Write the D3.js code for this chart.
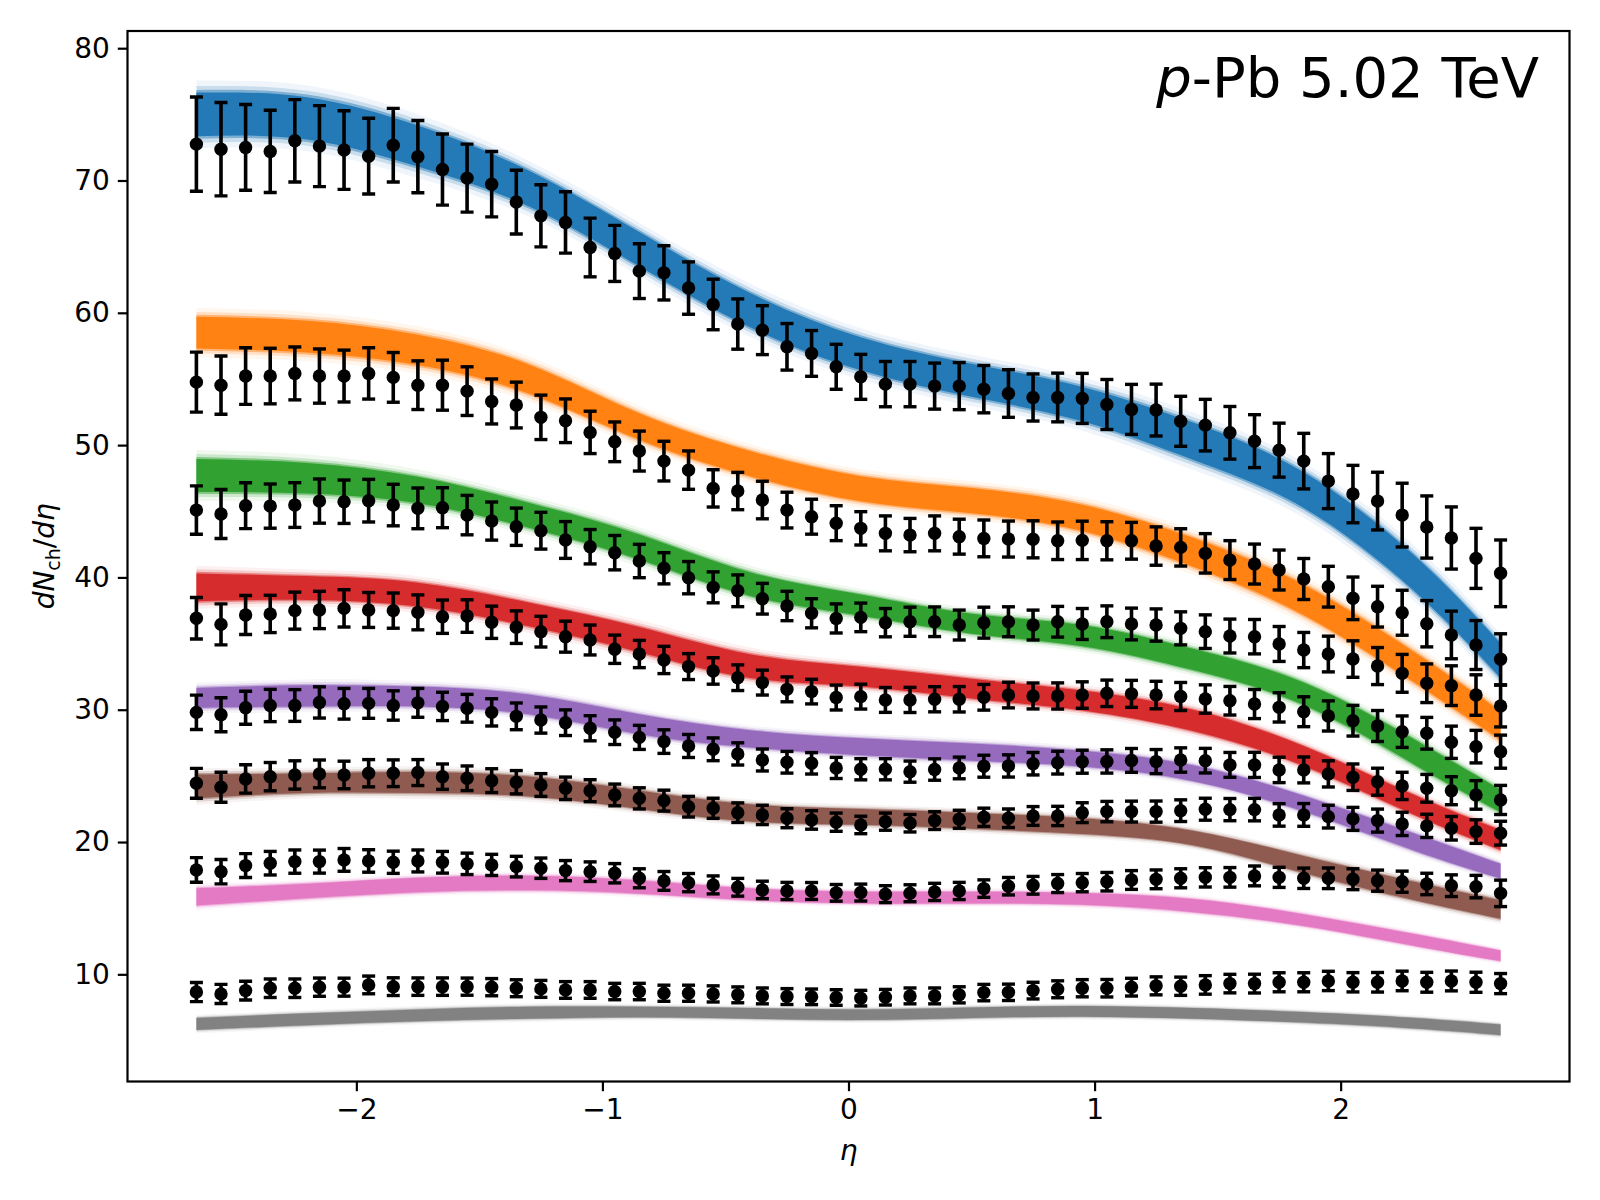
<!DOCTYPE html>
<html>
<head>
<meta charset="utf-8">
<script src="https://cdn.jsdelivr.net/npm/d3@7"></script>
<style>
  body { margin: 0; background: #fff; }
  svg text { font-family: "DejaVu Sans", sans-serif; fill: #000; }
</style>
</head>
<body>
<div id="chart"></div>
<script>
// pseudorapidity bins of the data points
var eta = [-2.65,-2.55,-2.45,-2.35,-2.25,-2.15,-2.05,-1.95,-1.85,-1.75,
  -1.65,-1.55,-1.45,-1.35,-1.25,-1.15,-1.05,-0.95,-0.85,-0.75,
  -0.65,-0.55,-0.45,-0.35,-0.25,-0.15,-0.05,0.05,0.15,0.25,
  0.35,0.45,0.55,0.65,0.75,0.85,0.95,1.05,1.15,1.25,
  1.35,1.45,1.55,1.65,1.75,1.85,1.95,2.05,2.15,2.25,
  2.35,2.45,2.55,2.65];

// centrality classes, top to bottom
var classes = ["c0", "c1", "c2", "c3", "c4", "c5", "c6", "c7"];
var colors = ["#1f77b4", "#ff7f0e", "#2ca02c", "#d62728", "#9467bd", "#8c564b", "#e377c2", "#7f7f7f"];

// measured dNch/deta
var dataC0 = [72.75,72.37,72.5,72.2,73.0,72.6,72.3,71.84,72.67,71.8,
  70.83,70.18,69.72,68.37,67.33,66.83,64.94,64.49,63.15,63.02,
  61.87,60.63,59.15,58.69,57.43,56.93,55.92,55.16,54.61,54.61,
  54.46,54.46,54.23,53.9,53.6,53.6,53.53,53.07,52.7,52.65,
  51.8,51.51,50.93,50.3,49.62,48.79,47.28,46.3,45.77,44.71,
  43.81,42.98,41.44,40.31];
var dataC1 = [54.76,54.53,55.22,55.22,55.42,55.22,55.22,55.42,55.12,54.53,
  54.53,54.08,53.3,53.03,52.1,51.84,50.96,50.25,49.55,48.79,
  48.11,46.73,46.53,45.85,45.09,44.59,44.1,43.71,43.33,43.2,
  43.33,43.08,42.95,42.9,42.88,42.77,42.8,42.77,42.77,42.37,
  42.27,41.82,41.31,41.01,40.56,39.88,39.3,38.42,37.79,37.33,
  36.5,35.65,34.89,33.81];
var dataC2 = [45.09,44.79,45.42,45.39,45.47,45.77,45.72,45.8,45.47,45.22,
  45.27,44.71,44.26,43.83,43.53,42.83,42.32,41.87,41.24,40.69,
  39.98,39.25,38.99,38.39,37.84,37.29,36.9,36.98,36.58,36.65,
  36.65,36.4,36.58,36.65,36.4,36.65,36.48,36.65,36.48,36.4,
  36.15,35.9,35.57,35.52,34.97,34.51,34.21,33.83,33.3,32.75,
  32.0,31.82,31.11,30.28];
var dataC3 = [36.91,36.45,37.16,37.24,37.49,37.54,37.66,37.54,37.49,37.36,
  37.03,37.08,36.61,36.24,35.9,35.52,35.27,34.57,34.21,33.76,
  33.26,32.93,32.42,32.05,31.54,31.37,30.92,30.99,30.74,30.74,
  30.79,30.79,30.94,31.11,31.04,31.04,31.11,31.24,31.2,31.11,
  31.0,30.81,30.68,30.43,30.18,29.85,29.53,29.17,28.77,28.34,
  28.22,27.54,27.21,26.83];
var dataC4 = [29.8,29.62,30.15,30.32,30.32,30.55,30.45,30.48,30.32,30.52,
  30.25,30.11,29.8,29.5,29.22,29.02,28.6,28.3,27.91,27.59,
  27.26,27.01,26.66,26.2,26.03,25.95,25.6,25.5,25.5,25.32,
  25.48,25.6,25.73,25.75,25.92,26.0,26.07,26.09,26.17,26.08,
  26.2,26.15,25.83,25.83,25.45,25.45,25.15,24.9,24.56,24.24,
  24.06,23.88,23.56,23.18];
var dataC5 = [24.44,24.14,24.77,24.94,25.07,25.15,25.07,25.2,25.2,25.25,
  24.94,24.82,24.64,24.52,24.31,24.06,23.88,23.56,23.3,23.13,
  22.67,22.55,22.22,22.05,21.8,21.67,21.5,21.29,21.54,21.42,
  21.62,21.72,21.87,21.8,21.97,21.97,22.22,22.3,22.3,22.3,
  22.37,22.48,22.45,22.45,22.05,22.05,21.92,21.75,21.62,21.37,
  21.22,21.04,20.79,20.67];
var dataC6 = [17.89,17.76,18.22,18.4,18.52,18.52,18.65,18.57,18.47,18.57,
  18.47,18.35,18.27,18.14,18.02,17.84,17.76,17.64,17.26,17.06,
  16.93,16.76,16.58,16.38,16.3,16.3,16.16,16.18,16.06,16.13,
  16.23,16.3,16.48,16.66,16.73,16.86,16.93,17.0,17.13,17.18,
  17.26,17.33,17.33,17.44,17.33,17.26,17.26,17.19,17.08,17.0,
  16.83,16.7,16.63,16.12];
var dataC7 = [8.66,8.52,8.77,8.95,8.95,9.03,9.03,9.2,9.07,9.07,
  9.07,9.07,9.03,8.95,8.9,8.82,8.82,8.7,8.7,8.57,
  8.57,8.52,8.45,8.37,8.32,8.3,8.25,8.2,8.27,8.37,
  8.37,8.45,8.62,8.64,8.77,8.87,8.95,8.95,9.03,9.13,
  9.1,9.2,9.3,9.3,9.4,9.4,9.5,9.4,9.4,9.5,
  9.4,9.5,9.4,9.3];

// uncertainties
var errC0 = [3.56,3.53,3.24,3.11,3.11,3.06,2.97,2.86,2.78,2.73,
  2.69,2.57,2.47,2.41,2.35,2.32,2.22,2.12,2.07,2.05,
  1.98,1.91,1.9,1.85,1.76,1.73,1.7,1.7,1.71,1.71,
  1.74,1.78,1.79,1.8,1.78,1.84,1.89,1.89,1.89,1.96,
  1.89,1.95,1.99,2.0,2.04,2.1,2.08,2.17,2.18,2.41,
  2.35,2.35,2.27,2.52];
var errC1 = [2.27,2.2,2.14,2.1,2.0,2.05,1.96,1.94,1.88,1.84,
  1.89,1.84,1.7,1.73,1.68,1.65,1.6,1.5,1.51,1.5,
  1.45,1.41,1.41,1.42,1.35,1.32,1.32,1.26,1.32,1.26,
  1.32,1.32,1.39,1.36,1.4,1.42,1.45,1.44,1.39,1.45,
  1.41,1.49,1.47,1.51,1.51,1.55,1.54,1.61,1.54,1.7,
  1.75,1.8,1.85,1.93];
var errC2 = [1.83,1.85,1.73,1.67,1.69,1.67,1.64,1.61,1.57,1.54,
  1.51,1.49,1.44,1.41,1.39,1.39,1.3,1.3,1.26,1.18,
  1.22,1.17,1.2,1.16,1.11,1.1,1.1,1.08,1.07,1.1,
  1.12,1.13,1.17,1.13,1.13,1.16,1.17,1.2,1.2,1.22,
  1.25,1.27,1.28,1.3,1.32,1.33,1.35,1.38,1.4,1.43,
  1.46,1.5,1.53,1.58];
var errC3 = [1.57,1.55,1.47,1.41,1.4,1.41,1.41,1.32,1.33,1.32,
  1.26,1.23,1.22,1.23,1.16,1.17,1.13,1.07,1.03,1.03,
  0.98,1.0,0.97,0.94,0.94,0.93,0.94,0.94,0.94,0.95,
  0.95,0.96,0.97,0.97,0.98,0.99,1.0,1.0,1.02,1.04,
  1.06,1.07,1.08,1.1,1.11,1.13,1.14,1.16,1.17,1.19,
  1.2,1.22,1.23,1.25];
var errC4 = [1.3,1.28,1.25,1.22,1.2,1.18,1.16,1.13,1.11,1.09,
  1.07,1.05,1.03,1.01,0.99,0.97,0.95,0.93,0.91,0.89,
  0.87,0.86,0.84,0.83,0.82,0.81,0.8,0.8,0.8,0.8,
  0.81,0.82,0.83,0.84,0.85,0.86,0.87,0.88,0.9,0.91,
  0.92,0.93,0.94,0.95,0.96,0.98,0.99,1.0,1.02,1.03,
  1.05,1.06,1.08,1.1];
var errC5 = [1.13,1.13,1.07,1.07,1.07,1.05,1.04,1.03,1.01,0.98,
  0.96,0.93,0.9,0.88,0.86,0.85,0.83,0.82,0.8,0.79,
  0.78,0.76,0.74,0.73,0.72,0.7,0.69,0.66,0.65,0.66,
  0.67,0.68,0.69,0.7,0.71,0.73,0.75,0.77,0.79,0.8,
  0.82,0.83,0.84,0.85,0.85,0.86,0.86,0.87,0.87,0.88,
  0.88,0.89,0.89,0.9];
var errC6 = [0.93,0.92,0.9,0.89,0.88,0.87,0.86,0.85,0.84,0.83,
  0.82,0.81,0.8,0.78,0.77,0.76,0.74,0.73,0.72,0.71,
  0.69,0.68,0.67,0.66,0.65,0.64,0.63,0.64,0.64,0.64,
  0.65,0.65,0.66,0.66,0.67,0.68,0.69,0.7,0.71,0.71,
  0.72,0.73,0.74,0.75,0.76,0.77,0.78,0.79,0.8,0.8,
  0.81,0.82,0.85,1.0];
var errC7 = [0.72,0.72,0.71,0.7,0.7,0.69,0.68,0.67,0.67,0.66,
  0.66,0.65,0.65,0.64,0.64,0.63,0.63,0.62,0.62,0.61,
  0.61,0.61,0.6,0.6,0.6,0.59,0.59,0.59,0.59,0.6,
  0.6,0.61,0.62,0.62,0.63,0.64,0.65,0.66,0.67,0.68,
  0.69,0.7,0.7,0.71,0.72,0.72,0.73,0.73,0.74,0.74,
  0.75,0.75,0.76,0.76];

// model bands: centre and half width, read at these eta values
var bandEta = [-2.65,-2.2,-1.75,-1.3,-0.85,-0.4,0.05,0.5,0.95,1.4,1.85,2.3,2.65];
var bandC0 = [75.0,74.7,72.6,69.4,64.8,60.2,56.9,54.9,53.1,50.3,46.6,40.3,33.7];
var bandC1 = [58.5,58.2,57.2,55.0,51.4,48.6,46.7,45.8,44.5,41.9,38.3,33.2,28.8];
var bandC2 = [47.7,47.5,46.6,44.7,42.3,39.5,37.9,36.5,35.6,33.8,31.2,26.8,23.1];
var bandC3 = [39.25,39.2,38.7,37.2,35.3,33.3,32.5,31.6,30.7,29.2,26.5,22.8,20.15];
var bandC4 = [30.9,31.05,31.0,30.4,28.9,27.8,27.2,26.8,26.3,25.2,22.9,20.0,17.8];
var bandC5 = [24.2,24.45,24.5,24.2,23.2,22.2,21.9,21.6,21.2,20.3,18.3,16.3,14.9];
var bandC6 = [15.85,16.3,16.75,16.9,16.6,16.05,15.8,15.8,15.7,15.2,14.1,12.6,11.4];
var bandC7 = [6.25,6.6,6.9,7.1,7.15,7.05,6.95,7.1,7.2,7.05,6.75,6.3,5.8];
var halfC0 = [1.65,1.6,1.55,1.35,1.3,1.3,1.25,1.25,1.3,1.4,1.35,1.35,1.3];
var halfC1 = [1.2,1.2,1.15,1.1,1.0,0.95,0.95,0.95,1.0,1.1,1.15,1.15,1.1];
var halfC2 = [1.25,1.15,1.0,0.95,0.95,0.9,0.8,0.75,0.8,0.8,0.85,0.95,0.85];
var halfC3 = [1.05,0.9,0.9,0.9,0.95,0.9,0.75,0.75,0.75,0.8,0.75,0.75,0.75];
var halfC4 = [0.75,0.8,0.75,0.75,0.75,0.65,0.65,0.65,0.6,0.6,0.6,0.65,0.55];
var halfC5 = [0.9,0.75,0.8,0.75,0.7,0.65,0.6,0.6,0.6,0.55,0.65,0.7,0.7];
var halfC6 = [0.65,0.55,0.55,0.55,0.5,0.45,0.45,0.45,0.45,0.5,0.45,0.45,0.4];
var halfC7 = [0.45,0.45,0.45,0.45,0.4,0.4,0.4,0.4,0.4,0.4,0.4,0.4,0.4];

var xTicks = [-2, -1, 0, 1, 2];
var yTicks = [10, 20, 30, 40, 50, 60, 70, 80];

var allData = [dataC0, dataC1, dataC2, dataC3, dataC4, dataC5, dataC6, dataC7];
var allErr = [errC0, errC1, errC2, errC3, errC4, errC5, errC6, errC7];
var allBand = [bandC0, bandC1, bandC2, bandC3, bandC4, bandC5, bandC6, bandC7];
var allHalf = [halfC0, halfC1, halfC2, halfC3, halfC4, halfC5, halfC6, halfC7];

var W = 1600, H = 1200;
var margin = { top: 31, left: 127.5, right: 30.5, bottom: 118.5 },
    width = W - margin.left - margin.right,
    height = H - margin.top - margin.bottom;

var svg = d3.select("#chart").append("svg")
  .attr("width", W).attr("height", H)
  .style("background", "#fff");

var g = svg.append("g")
  .attr("transform", "translate(" + margin.left + "," + margin.top + ")");

var x = d3.scaleLinear().domain([-2.93, 2.93]).range([0, width]);
var y = d3.scaleLinear().domain([1.9, 81.3]).range([height, 0]);

g.append("clipPath").attr("id", "clip")
  .append("rect").attr("width", width).attr("height", height);

var plot = g.append("g").attr("clip-path", "url(#clip)");

// bands first: a faint halo and a solid core
classes.forEach(function(c, k) {
  var pts = bandEta.map(function(e, i) {
    return { e: e, c: allBand[k][i], h: allHalf[k][i] };
  });
  [[1.55, 0.07], [1.3, 0.18], [1.12, 0.45], [1.0, 0.95]].forEach(function(layer) {
    var area = d3.area()
      .curve(d3.curveNatural)
      .x(function(d) { return x(d.e); })
      .y0(function(d) { return y(d.c - d.h * layer[0]); })
      .y1(function(d) { return y(d.c + d.h * layer[0]); });
    plot.append("path")
      .datum(pts)
      .attr("class", "band " + c)
      .attr("d", area)
      .attr("fill", colors[k])
      .attr("fill-opacity", layer[1]);
  });
});

// error bars and markers
classes.forEach(function(c, k) {
  var pts = eta.map(function(e, i) {
    return { e: e, v: allData[k][i], err: allErr[k][i] };
  });
  var grp = plot.append("g").attr("class", "points " + c);
  var bars = grp.selectAll("g.eb").data(pts).enter().append("g").attr("class", "eb");
  bars.append("line")
    .attr("x1", function(d) { return x(d.e); })
    .attr("x2", function(d) { return x(d.e); })
    .attr("y1", function(d) { return y(d.v - d.err); })
    .attr("y2", function(d) { return y(d.v + d.err); })
    .attr("stroke", "#000").attr("stroke-width", 3.6);
  [-1, 1].forEach(function(s) {
    bars.append("line")
      .attr("x1", function(d) { return x(d.e) - 6.5; })
      .attr("x2", function(d) { return x(d.e) + 6.5; })
      .attr("y1", function(d) { return y(d.v + s * d.err); })
      .attr("y2", function(d) { return y(d.v + s * d.err); })
      .attr("stroke", "#000").attr("stroke-width", 3.4);
  });
  bars.append("circle")
    .attr("cx", function(d) { return x(d.e); })
    .attr("cy", function(d) { return y(d.v); })
    .attr("r", 6.7)
    .attr("fill", "#000");
});

// axes
var fmt = function(d) { return d < 0 ? "\u2212" + Math.abs(d) : String(d); };

var xAxis = g.append("g")
  .attr("transform", "translate(0," + height + ")")
  .call(d3.axisBottom(x).tickValues(xTicks).tickFormat(fmt).tickSize(9.7).tickPadding(8).tickSizeOuter(0));
var yAxis = g.append("g")
  .call(d3.axisLeft(y).tickValues(yTicks).tickFormat(fmt).tickSize(9.7).tickPadding(8).tickSizeOuter(0));

[xAxis, yAxis].forEach(function(ax) {
  ax.select(".domain").remove();
  ax.selectAll(".tick line").attr("stroke", "#000").attr("stroke-width", 2.2);
  ax.selectAll(".tick text")
    .style("font-family", "DejaVu Sans")
    .style("font-size", "28px")
    .attr("fill", "#000");
});

g.append("rect")
  .attr("width", width).attr("height", height)
  .attr("fill", "none").attr("stroke", "#000").attr("stroke-width", 2.2);

// labels
svg.append("text")
  .attr("x", margin.left + x(0)).attr("y", 1160)
  .attr("text-anchor", "middle")
  .style("font-size", "28px").style("font-style", "italic")
  .text("\u03b7");

var yl = svg.append("text")
  .attr("transform", "translate(54," + (margin.top + height / 2) + ") rotate(-90)")
  .attr("text-anchor", "middle")
  .style("font-size", "28px");
yl.append("tspan").style("font-style", "italic").text("dN");
yl.append("tspan").attr("dy", 6).style("font-size", "19px").text("ch");
yl.append("tspan").attr("dy", -6).text("/");
yl.append("tspan").style("font-style", "italic").text("d\u03b7");

var title = svg.append("text")
  .attr("x", 1539).attr("y", 97)
  .attr("text-anchor", "end")
  .style("font-size", "56px");
title.append("tspan").style("font-style", "italic").text("p");
title.append("tspan").text("-Pb 5.02 TeV");
</script>
</body>
</html>
